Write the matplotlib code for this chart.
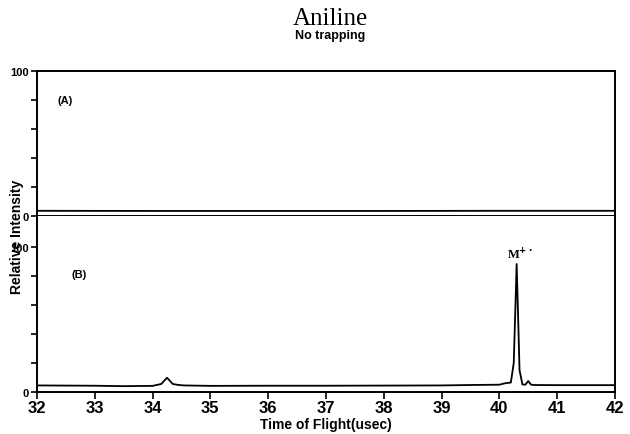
import matplotlib
matplotlib.use("Agg")
import matplotlib.pyplot as plt

# данные
tof_a = [32.0, 34.0, 36.0, 38.0, 40.0, 42.0]
int_a = [3.6, 3.5, 3.5, 3.5, 3.6, 3.6]

tof_b = [32.0, 33.0, 33.5, 34.0, 34.15, 34.25, 34.35, 34.45, 34.55, 35.0,
         36.0, 37.0, 38.0, 39.0, 39.5, 40.0, 40.1, 40.2, 40.25, 40.28,
         40.30, 40.32, 40.35, 40.4, 40.45, 40.5, 40.55, 40.6, 41.0, 42.0]
int_b = [4.5, 4.3, 4.0, 4.2, 5.5, 9.8, 5.5, 4.8, 4.5, 4.2,
         4.3, 4.3, 4.4, 4.5, 4.8, 5.0, 6.0, 6.5, 20.0, 60.0,
         88.0, 60.0, 15.0, 5.2, 5.0, 7.5, 5.0, 4.8, 4.7, 4.7]

x_ticks = list(range(32, 43))
y_ticks = [0, 20, 40, 60, 80, 100]
y_labels = ['0', '', '', '', '', '100']

plt.rcParams['font.family'] = ['Liberation Sans', 'DejaVu Sans']
plt.rcParams['font.weight'] = 'bold'

fig = plt.figure(figsize=(6.3, 4.35), dpi=100)
ax_a = fig.add_axes([0.0587, 0.5011, 0.9173, 0.3334])
ax_b = fig.add_axes([0.0587, 0.0966, 0.9173, 0.4045])

for ax in (ax_a, ax_b):
    ax.set_xlim(32, 42)
    ax.set_yticks(y_ticks)
    ax.set_yticklabels(y_labels, fontsize=8, fontweight='bold')
    ax.tick_params(axis='y', direction='out', length=4, width=1.2, pad=2)
    for s in ax.spines.values():
        s.set_linewidth(1.4)

ax_a.set_ylim(0, 100)
ax_a.plot(tof_a, int_a, color='black', lw=1.3)
ax_a.set_xticks([])
ax_a.text(32.35, 80, '(A)', fontsize=8, fontweight='bold', va='center')

ax_b.set_ylim(0, 121)
ax_b.plot(tof_b, int_b, color='black', lw=1.3)
ax_b.spines['top'].set_visible(False)
ax_b.set_xticks(x_ticks)
ax_b.set_xticklabels([str(t) for t in x_ticks], fontsize=12, fontweight='bold')
ax_b.tick_params(axis='x', direction='out', length=5, width=1.2, pad=1)
ax_b.text(32.6, 81, '(B)', fontsize=8, fontweight='bold', va='center')
ax_b.text(40.35, 95, r'M$^{+\cdot}$', fontsize=9, family='Liberation Serif',
          fontweight='bold', ha='center', va='center')
ax_b.set_xlabel('Time of Flight(usec)', fontsize=10, fontweight='bold', labelpad=1)

fig.text(0.027, 0.455, 'Relative Intensity', rotation=90, fontsize=10,
         fontweight='bold', ha='center', va='center')
fig.text(0.524, 0.957, 'Aniline', fontsize=18, family='Liberation Serif',
         fontweight='normal', ha='center', va='center')
fig.text(0.524, 0.917, 'No trapping', fontsize=9, fontweight='bold',
         ha='center', va='center')

fig.savefig('out.png', dpi=100)
